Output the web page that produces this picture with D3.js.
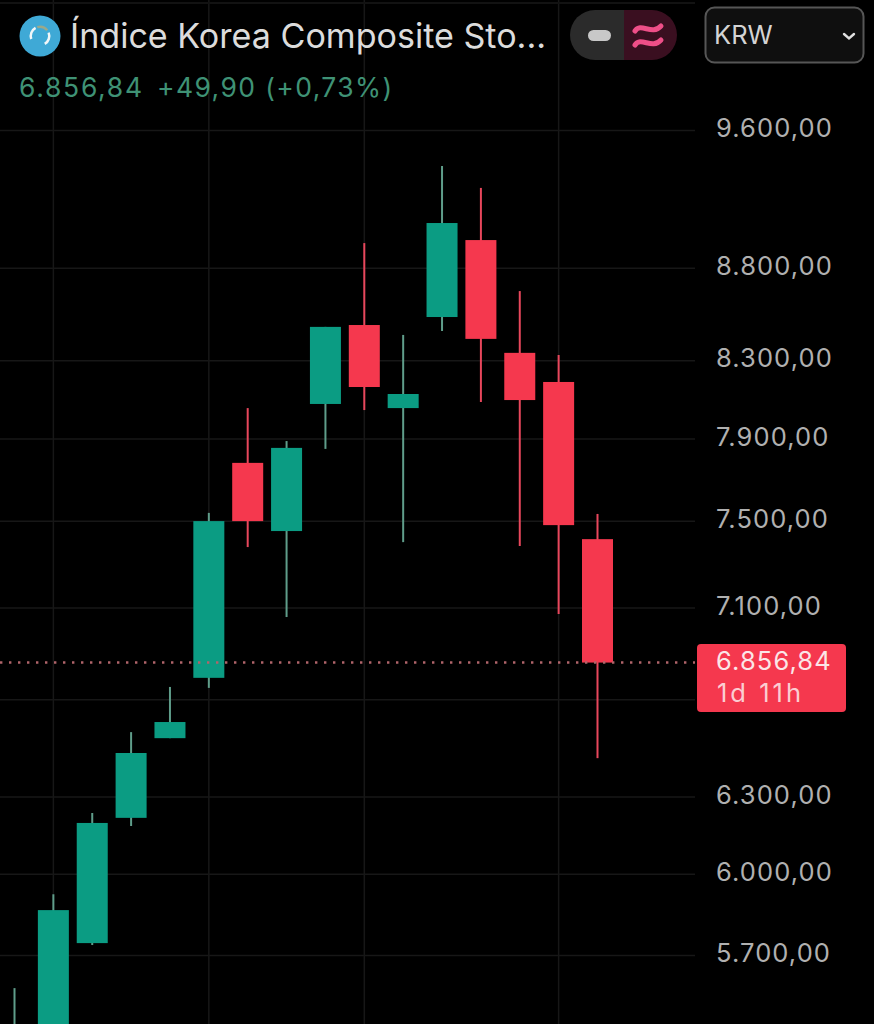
<!DOCTYPE html>
<html><head><meta charset="utf-8">
<script src="https://cdn.jsdelivr.net/npm/d3@7/dist/d3.min.js"></script>
<style>html,body{margin:0;padding:0;background:#000;overflow:hidden}svg{display:block}text{font-family:Inter,Roboto,sans-serif}</style>
</head><body><script>
const opens  = [5200,5300,5743,6216,6537,6791,7779,7451,8074,8487,8053,8530,8955,8339,8187,7413];
const highs  = [5582,5923,6235,6562,6752,7537,8053,7887,8477,8938,8434,9384,9255,8671,8328,7532];
const lows   = [5150,5280,5736,6184,6537,6748,7376,7057,7848,8043,7399,8455,8084,7381,7070,6455];
const closes = [5400,5864,6196,6476,6604,7498,7498,7853,8477,8161,8125,9052,8413,8094,7479,6856.84];
const labelTicks = [9600,8800,8300,7900,7500,7100,6300,6000,5700];
const gridTicks  = [9600,8800,8300,7900,7500,7100,6700,6300,6000,5700];
const gridCandles = [1,5,9,14];
const title = "Índice Korea Composite Sto...";
const lastPrice = 6856.84;
const changeText = "+49,90 (+0,73%)";
const countdown = "1d 11h";
const currency = "KRW";

const W=874,H=1024;
const UP="#0b9c83",DOWN="#f5384e",UPW="#5f9d8a",DOWNW="#e8475c",GRID="#171717";
const svg=d3.select("body").append("svg").attr("width",W).attr("height",H);
svg.append("rect").attr("width",W).attr("height",H).attr("fill","#000");
const y=d3.scaleLog().domain([5700,9600]).range([955,130]);
const x=d3.scaleLinear().domain([0,15]).range([14.5,597.5]);
const loc=d3.formatLocale({decimal:",",thousands:".",grouping:[3],currency:["",""]});
const fmt=loc.format(",.2f");

// grid
svg.append("g")
 .call(d3.axisRight(y).tickValues(gridTicks).tickSize(695).tickFormat(""))
 .call(g=>g.select(".domain").remove())
 .call(g=>g.selectAll("line").attr("stroke",GRID).attr("stroke-width",1.5));
svg.append("g").selectAll("line").data(gridCandles).join("line")
 .attr("x1",d=>x(d)).attr("x2",d=>x(d)).attr("y1",0).attr("y2",H)
 .attr("stroke",GRID).attr("stroke-width",1.5);
svg.append("line").attr("x1",0).attr("x2",695).attr("y1",3).attr("y2",3).attr("stroke","#121212").attr("stroke-width",2);

// candles
const idx=d3.range(opens.length);
const c=svg.append("g");
c.selectAll("line").data(idx).join("line")
 .attr("x1",i=>x(i)).attr("x2",i=>x(i)).attr("y1",i=>y(highs[i])).attr("y2",i=>y(lows[i]))
 .attr("stroke",i=>closes[i]>=opens[i]?UPW:DOWNW).attr("stroke-width",2);
c.selectAll("rect").data(idx).join("rect")
 .attr("x",i=>x(i)-15.5).attr("width",31)
 .attr("y",i=>y(Math.max(opens[i],closes[i])))
 .attr("height",i=>Math.abs(y(opens[i])-y(closes[i])))
 .attr("fill",i=>closes[i]>=opens[i]?UP:DOWN);

// axis labels
svg.append("g").attr("transform","translate(716,0)")
 .call(d3.axisRight(y).tickValues(labelTicks).tickSize(0).tickPadding(0).tickFormat(d=>fmt(d)))
 .call(g=>g.select(".domain").remove())
 .call(g=>g.selectAll("text").attr("x",0).attr("dy","0.26em").attr("fill","#b0b0b0")
   .attr("font-size",25.5).attr("letter-spacing",1.1));

// last price
svg.append("line").attr("x1",0).attr("x2",695).attr("y1",y(lastPrice)).attr("y2",y(lastPrice))
 .attr("stroke","#b0646a").attr("stroke-width",2.4).attr("stroke-dasharray","2.4 6.6");
svg.append("rect").attr("x",697).attr("y",644).attr("width",149).attr("height",68).attr("rx",4).attr("fill",DOWN);
svg.append("text").attr("x",716).attr("y",670).attr("fill","#fbe6e8").attr("font-size",25.5).attr("letter-spacing",1.1).text(fmt(lastPrice));
svg.append("text").attr("x",717).attr("y",702).attr("fill","#fbcdd2").attr("font-size",25.5).attr("letter-spacing",3).text(countdown);

// header
const icon=svg.append("g").attr("transform","translate(40,36)");
icon.append("circle").attr("r",20.5).attr("fill","#3fa9d6");
const arc=d3.arc().innerRadius(8).outerRadius(10.5);
icon.append("path").attr("d",arc({startAngle:-1.9,endAngle:-0.5})).attr("fill","#f2f6f8");
icon.append("path").attr("d",arc({startAngle:1.2,endAngle:2.6})).attr("fill","#f2f6f8");
icon.append("path").attr("d",arc({startAngle:-0.3,endAngle:0.9})).attr("fill","#9aa98a");
svg.append("text").attr("x",70).attr("y",48).attr("fill","#dcdcdc").attr("font-size",34.1).text(title);
svg.append("text").attr("x",19).attr("y",97).attr("fill","#3f9275").attr("font-size",26.5).attr("letter-spacing",1.7).text(fmt(lastPrice));
svg.append("text").attr("x",157).attr("y",97).attr("fill","#3f9275").attr("font-size",26.5).attr("letter-spacing",1.4).text(changeText);

svg.append("path").attr("d","M624,10H595a25,25 0 0 0 0,50H624Z").attr("fill","#2b2b2b");
svg.append("path").attr("d","M624,10H652a25,25 0 0 1 0,50H624Z").attr("fill","#3a0f20");
svg.append("rect").attr("x",588).attr("y",30).attr("width",23).attr("height",11).attr("rx",5.5).attr("fill","#c8c8c8");
[29,43].forEach(v=>svg.append("path")
 .attr("d",`M635,${v+2}C641,${v-7} 652,${v+7} 661,${v-3}`)
 .attr("fill","none").attr("stroke","#ee4f88").attr("stroke-width",5).attr("stroke-linecap","round"));
svg.append("rect").attr("x",705.5).attr("y",7.5).attr("width",158).attr("height",55).attr("rx",9)
 .attr("fill","#0f0f0f").attr("stroke","#565656").attr("stroke-width",2);
svg.append("text").attr("x",714).attr("y",44).attr("fill","#d4d4d4").attr("font-size",25.5).text(currency);
svg.append("path").attr("d","M844,34l5,4.5l5,-4.5").attr("fill","none").attr("stroke","#e0e0e0").attr("stroke-width",2.4).attr("stroke-linecap","round");
</script></body></html>
